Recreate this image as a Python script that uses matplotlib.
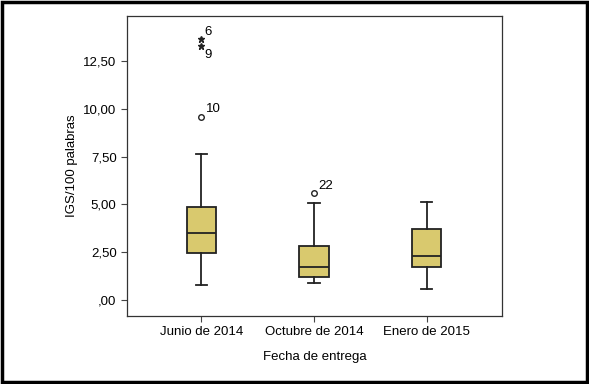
import matplotlib.pyplot as plt
from matplotlib.patches import Rectangle
from matplotlib.ticker import FuncFormatter

plt.rcParams['font.family'] = ['Liberation Sans', 'DejaVu Sans']

# Values
categories = ['Junio de 2014', 'Octubre de 2014', 'Enero de 2015']
whislo = [0.77, 0.89, 0.56]
q1 = [2.44, 1.20, 1.74]
med = [3.52, 1.71, 2.29]
q3 = [4.87, 2.83, 3.72]
whishi = [7.64, 5.06, 5.11]

# outliers (circles) and extremes (stars) with case labels
out_cat = [1, 2]
out_val = [9.60, 5.58]
out_lab = ['10', '22']
ext_cat = [1, 1]
ext_val = [13.66, 13.30]
ext_lab = ['6', '9']

stats = []
for i in range(len(categories)):
    stats.append({'whislo': whislo[i], 'q1': q1[i], 'med': med[i],
                  'q3': q3[i], 'whishi': whishi[i], 'fliers': []})

fig = plt.figure(figsize=(5.89, 3.84), dpi=100)
ax = fig.add_axes([127 / 589, 1 - 316 / 384, 375 / 589, 300 / 384])

ax.bxp(stats, positions=[1, 2, 3], widths=0.26, patch_artist=True,
       capwidths=0.1, showfliers=False,
       boxprops=dict(facecolor='#d9c96e', edgecolor='#222222', linewidth=1.3),
       medianprops=dict(color='#222222', linewidth=1.3),
       whiskerprops=dict(color='#222222', linewidth=1.3),
       capprops=dict(color='#222222', linewidth=1.3))

ax.plot(out_cat, out_val, 'o', mfc='white', mec='#222222', ms=4, mew=1)
ax.plot(ext_cat, ext_val, '*', color='#222222', ms=4.5)
for x, y, t in zip(out_cat, out_val, out_lab):
    ax.annotate(t, (x, y), xytext=(3, 3), textcoords='offset points', fontsize=9.5)
for x, y, t in zip(ext_cat, ext_val, ext_lab):
    ax.annotate(t, (x, y), xytext=(2, 3) if t == '6' else (2, -9),
                textcoords='offset points', fontsize=9.5)

ax.set_xlim(0.34, 3.67)
ax.set_ylim(-0.84, 14.87)
ax.set_yticks([0, 2.5, 5, 7.5, 10, 12.5])
ax.yaxis.set_major_formatter(FuncFormatter(
    lambda v, p: ('%.2f' % v).replace('.', ',').lstrip('0') if v < 1 else ('%.2f' % v).replace('.', ',')))
ax.set_xticks([1, 2, 3])
ax.set_xticklabels(categories)
ax.tick_params(labelsize=9.5, length=4, width=0.8, color='#444444')
for s in ax.spines.values():
    s.set_linewidth(0.9)
    s.set_color('#333333')

ax.set_ylabel('IGS/100 palabras', fontsize=9.5, labelpad=4)
ax.set_xlabel('Fecha de entrega', fontsize=9.5, labelpad=9)

fig.patches.append(Rectangle((0.004, 0.006), 0.992, 0.988, transform=fig.transFigure,
                             fill=False, edgecolor='black', linewidth=2.5))

fig.savefig('out.png', dpi=100)
